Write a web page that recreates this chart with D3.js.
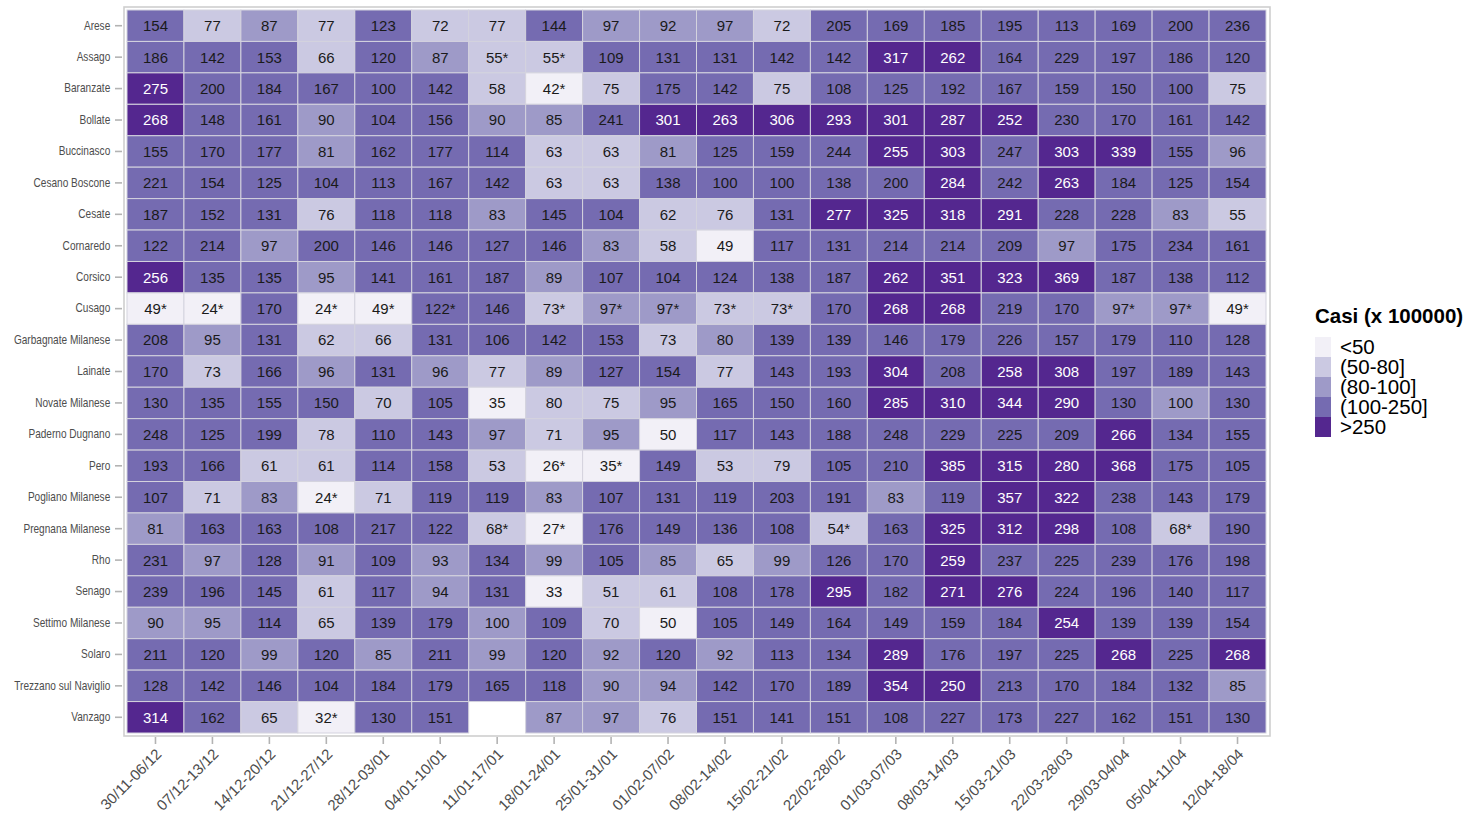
<!DOCTYPE html>
<html>
<head>
<meta charset="utf-8">
<script src="https://cdn.jsdelivr.net/npm/d3@7"></script>
<style>
  body { margin: 0; background: #fff; }
  text { font-family: "Liberation Sans", Arial, sans-serif; }
</style>
</head>
<body>
<script>
var weeks = ["30/11-06/12","07/12-13/12","14/12-20/12","21/12-27/12","28/12-03/01","04/01-10/01",
  "11/01-17/01","18/01-24/01","25/01-31/01","01/02-07/02","08/02-14/02","15/02-21/02","22/02-28/02",
  "01/03-07/03","08/03-14/03","15/03-21/03","22/03-28/03","29/03-04/04","05/04-11/04","12/04-18/04"];

var comuni = ["Arese","Assago","Baranzate","Bollate","Buccinasco","Cesano Boscone","Cesate","Cornaredo",
  "Corsico","Cusago","Garbagnate Milanese","Lainate","Novate Milanese","Paderno Dugnano","Pero",
  "Pogliano Milanese","Pregnana Milanese","Rho","Senago","Settimo Milanese","Solaro",
  "Trezzano sul Naviglio","Vanzago"];

// casi per 100000 abitanti, "*" = dato segnato nel grafico, null = mancante
var casi = [
  ["154","77","87","77","123","72","77","144","97","92","97","72","205","169","185","195","113","169","200","236"],
  ["186","142","153","66","120","87","55*","55*","109","131","131","142","142","317","262","164","229","197","186","120"],
  ["275","200","184","167","100","142","58","42*","75","175","142","75","108","125","192","167","159","150","100","75"],
  ["268","148","161","90","104","156","90","85","241","301","263","306","293","301","287","252","230","170","161","142"],
  ["155","170","177","81","162","177","114","63","63","81","125","159","244","255","303","247","303","339","155","96"],
  ["221","154","125","104","113","167","142","63","63","138","100","100","138","200","284","242","263","184","125","154"],
  ["187","152","131","76","118","118","83","145","104","62","76","131","277","325","318","291","228","228","83","55"],
  ["122","214","97","200","146","146","127","146","83","58","49","117","131","214","214","209","97","175","234","161"],
  ["256","135","135","95","141","161","187","89","107","104","124","138","187","262","351","323","369","187","138","112"],
  ["49*","24*","170","24*","49*","122*","146","73*","97*","97*","73*","73*","170","268","268","219","170","97*","97*","49*"],
  ["208","95","131","62","66","131","106","142","153","73","80","139","139","146","179","226","157","179","110","128"],
  ["170","73","166","96","131","96","77","89","127","154","77","143","193","304","208","258","308","197","189","143"],
  ["130","135","155","150","70","105","35","80","75","95","165","150","160","285","310","344","290","130","100","130"],
  ["248","125","199","78","110","143","97","71","95","50","117","143","188","248","229","225","209","266","134","155"],
  ["193","166","61","61","114","158","53","26*","35*","149","53","79","105","210","385","315","280","368","175","105"],
  ["107","71","83","24*","71","119","119","83","107","131","119","203","191","83","119","357","322","238","143","179"],
  ["81","163","163","108","217","122","68*","27*","176","149","136","108","54*","163","325","312","298","108","68*","190"],
  ["231","97","128","91","109","93","134","99","105","85","65","99","126","170","259","237","225","239","176","198"],
  ["239","196","145","61","117","94","131","33","51","61","108","178","295","182","271","276","224","196","140","117"],
  ["90","95","114","65","139","179","100","109","70","50","105","149","164","149","159","184","254","139","139","154"],
  ["211","120","99","120","85","211","99","120","92","120","92","113","134","289","176","197","225","268","225","268"],
  ["128","142","146","104","184","179","165","118","90","94","142","170","189","354","250","213","170","184","132","85"],
  ["314","162","65","32*","130","151",null,"87","97","76","151","141","151","108","227","173","227","162","151","130"]
];

var classi = ["<50","(50-80]","(80-100]","(100-250]",">250"];
var colori = ["#f2f0f7","#cbc9e2","#9e9ac8","#756bb1","#54278f"];

// celle la cui classe non segue il valore arrotondato mostrato
var eccezioni = [
  ["Baranzate","28/12-03/01","(100-250]"],
  ["Baranzate","05/04-11/04","(100-250]"],
  ["Cesano Boscone","08/02-14/02","(100-250]"],
  ["Cesano Boscone","15/02-21/02","(100-250]"],
  ["Garbagnate Milanese","08/02-14/02","(80-100]"],
  ["Trezzano sul Naviglio","08/03-14/03",">250"]
];

var svg = d3.select("body").append("svg")
  .attr("width", 1469)
  .attr("height", 819);

var x = d3.scaleBand().domain(weeks).range([127, 1266]);
var y = d3.scaleBand().domain(comuni).range([10, 733]);
var classe = d3.scaleThreshold().domain([50.5, 80.5, 100.5, 250.5]).range(classi);
var fill = d3.scaleOrdinal().domain(classi).range(colori);

var celle = [];
comuni.forEach(function (c, i) {
  weeks.forEach(function (w, j) {
    var raw = casi[i][j];
    if (raw === null) return;
    var v = parseFloat(raw);
    var k = classe(v);
    eccezioni.forEach(function (e) { if (e[0] === c && e[1] === w) k = e[2]; });
    celle.push({ comune: c, week: w, label: raw, cls: k });
  });
});

svg.selectAll("rect.cell")
  .data(celle)
  .enter()
  .append("rect")
  .attr("class", "cell")
  .attr("x", function (d) { return x(d.week); })
  .attr("y", function (d) { return y(d.comune); })
  .attr("width", x.bandwidth())
  .attr("height", y.bandwidth())
  .style("fill", function (d) { return fill(d.cls); })
  .style("stroke", "#d4d3de")
  .style("stroke-width", 1);

svg.selectAll("text.val")
  .data(celle)
  .enter()
  .append("text")
  .attr("class", "val")
  .attr("x", function (d) { return x(d.week) + x.bandwidth() / 2; })
  .attr("y", function (d) { return y(d.comune) + y.bandwidth() / 2; })
  .attr("dy", "0.36em")
  .style("text-anchor", "middle")
  .style("font-size", "15px")
  .style("fill", function (d) { return d.cls === ">250" ? "#fff" : "#1a1a1a"; })
  .text(function (d) { return d.label; });

// bordo del pannello
svg.append("rect")
  .attr("x", 124)
  .attr("y", 7)
  .attr("width", 1146)
  .attr("height", 729)
  .style("fill", "none")
  .style("stroke", "#cfcfcf")
  .style("stroke-width", 1.6);

var yAxis = svg.append("g")
  .attr("transform", "translate(122,0)")
  .call(d3.axisLeft(y).tickSize(7).tickPadding(7));
yAxis.select(".domain").remove();
yAxis.selectAll("line").style("stroke", "#b3b3b3").style("stroke-width", 1.6);
// etichette strette come nell'originale
yAxis.selectAll("text")
  .attr("transform", "scale(0.84,1)")
  .style("font-size", "12px")
  .style("fill", "#4d4d4d");

var xAxis = svg.append("g")
  .attr("transform", "translate(0,737)")
  .call(d3.axisBottom(x).tickSize(7).tickPadding(4));
xAxis.select(".domain").remove();
xAxis.selectAll("line").style("stroke", "#b3b3b3").style("stroke-width", 1.6);
xAxis.selectAll("text")
  .attr("y", 0)
  .attr("dy", 0)
  .attr("transform", "translate(7,18) rotate(-45)")
  .style("text-anchor", "end")
  .style("font-size", "15px")
  .style("fill", "#4d4d4d");

// legenda
var leg = svg.append("g").attr("transform", "translate(1315,0)");
leg.append("text")
  .attr("x", 0)
  .attr("y", 323)
  .style("font-size", "20.5px")
  .style("font-weight", "bold")
  .style("fill", "#000")
  .text("Casi (x 100000)");

leg.selectAll("rect")
  .data(classi)
  .enter()
  .append("rect")
  .attr("x", 0)
  .attr("y", function (d, i) { return 337 + i * 20; })
  .attr("width", 16)
  .attr("height", 20)
  .style("fill", function (d) { return fill(d); });

leg.selectAll("text.lab")
  .data(classi)
  .enter()
  .append("text")
  .attr("class", "lab")
  .attr("x", 25)
  .attr("y", function (d, i) { return 347 + i * 20; })
  .attr("dy", "0.36em")
  .style("font-size", "20.5px")
  .style("fill", "#000")
  .text(function (d) { return d; });
</script>
</body>
</html>
